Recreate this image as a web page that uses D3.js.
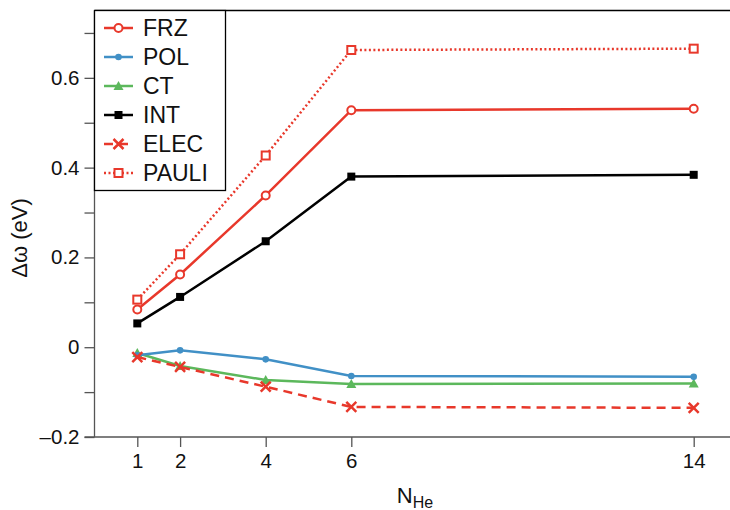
<!DOCTYPE html>
<html>
<head>
<meta charset="utf-8">
<script src="https://cdn.jsdelivr.net/npm/d3@7"></script>
<style>
  body { margin: 0; background: #fff; }
  svg { display: block; font-family: "Liberation Sans", Arial, sans-serif; }
</style>
</head>
<body>
<div id="chart"></div>
<script>
// data
const nHe = [1, 2, 4, 6, 14];
const frz   = [0.084, 0.162, 0.338, 0.528, 0.531];
const pol   = [-0.018, -0.007, -0.027, -0.064, -0.066];
const ct    = [-0.013, -0.042, -0.073, -0.082, -0.081];
const intE  = [0.053, 0.112, 0.236, 0.380, 0.384];
const elec  = [-0.022, -0.044, -0.088, -0.133, -0.135];
const pauli = [0.106, 0.207, 0.427, 0.662, 0.665];
const xTicks = [1, 2, 4, 6, 14];
const yTicks = [-0.2, -0.1, 0, 0.1, 0.2, 0.3, 0.4, 0.5, 0.6, 0.7];
const yLabelled = [-0.2, 0, 0.2, 0.4, 0.6];

const width = 730, height = 510;
const marginTop = 10.5, marginLeft = 94.5, marginBottom = 73;

const red = "#e8382b", blue = "#4190c6", green = "#5cb85c", black = "#000";

const series = [
  {name: "FRZ", values: frz, color: red, dash: null, marker: "circleOpen"},
  {name: "POL", values: pol, color: blue, dash: null, marker: "dot"},
  {name: "CT", values: ct, color: green, dash: null, marker: "triangle"},
  {name: "INT", values: intE, color: black, dash: null, marker: "square"},
  {name: "ELEC", values: elec, color: red, dash: "9,6", marker: "cross"},
  {name: "PAULI", values: pauli, color: red, dash: "2,2.5", marker: "squareOpen"}
];

const x = d3.scaleLinear().domain([0, 15]).range([marginLeft, marginLeft + 15 * 42.8]);
const y = d3.scaleLinear().domain([-0.2, 0.75]).range([height - marginBottom, marginTop]);

const svg = d3.select("#chart").append("svg")
  .attr("width", width).attr("height", height);

const axisColor = "#555";
const tickFont = 20.5;

// frame line on top
svg.append("line")
  .attr("x1", marginLeft).attr("x2", width).attr("y1", marginTop).attr("y2", marginTop)
  .attr("stroke", "#000").attr("stroke-width", 1.5);

// y axis
const yAxis = svg.append("g")
  .attr("transform", `translate(${marginLeft},0)`)
  .call(d3.axisLeft(y).tickValues(yTicks).tickSize(10).tickPadding(5)
    .tickFormat(d => yLabelled.some(v => Math.abs(v - d) < 1e-9)
      ? (d < 0 ? "\u2013" + d3.format(".1f")(-d) : d === 0 ? "0" : d3.format(".1f")(d)) : ""));
yAxis.select(".domain").attr("stroke", axisColor).attr("stroke-width", 1.3)
  .attr("d", `M0,${marginTop}V${height - marginBottom}`);
yAxis.selectAll(".tick line").attr("stroke", axisColor).attr("stroke-width", 1.3);
yAxis.selectAll(".tick text").attr("font-size", tickFont).attr("fill", "#111")
  .attr("font-family", "Liberation Sans, Arial, sans-serif");

// x axis
const xAxis = svg.append("g")
  .attr("transform", `translate(0,${height - marginBottom})`)
  .call(d3.axisBottom(x).tickValues(xTicks).tickSize(10).tickPadding(6));
xAxis.select(".domain").attr("stroke", axisColor).attr("stroke-width", 1.3)
  .attr("d", `M${marginLeft - 10},0H${width}`);
xAxis.selectAll(".tick line").attr("stroke", axisColor).attr("stroke-width", 1.3);
xAxis.selectAll(".tick text").attr("font-size", tickFont).attr("fill", "#111")
  .attr("font-family", "Liberation Sans, Arial, sans-serif");

// axis titles
svg.append("text")
  .attr("transform", `translate(27,238) rotate(-90)`)
  .attr("text-anchor", "middle")
  .attr("font-size", 22)
  .attr("fill", "#111")
  .text("\u0394\u03c9 (eV)");

const xt = svg.append("text")
  .attr("x", 415).attr("y", 503)
  .attr("text-anchor", "middle")
  .attr("font-size", 22)
  .attr("fill", "#111");
xt.append("tspan").text("N");
xt.append("tspan").attr("font-size", 16).attr("dy", 5).text("He");

// markers
function drawMarker(g, type, color, cx, cy) {
  if (type === "circleOpen") {
    g.append("circle").attr("cx", cx).attr("cy", cy).attr("r", 4)
      .attr("fill", "#fff").attr("stroke", color).attr("stroke-width", 2);
  } else if (type === "dot") {
    g.append("circle").attr("cx", cx).attr("cy", cy).attr("r", 3.3).attr("fill", color);
  } else if (type === "triangle") {
    g.append("path").attr("d", `M${cx},${cy - 5}L${cx + 5},${cy + 4}L${cx - 5},${cy + 4}Z`).attr("fill", color);
  } else if (type === "square") {
    g.append("rect").attr("x", cx - 4).attr("y", cy - 4).attr("width", 8).attr("height", 8).attr("fill", color);
  } else if (type === "squareOpen") {
    g.append("rect").attr("x", cx - 4).attr("y", cy - 4).attr("width", 8).attr("height", 8)
      .attr("fill", "#fff").attr("stroke", color).attr("stroke-width", 2);
  } else if (type === "cross") {
    g.append("path").attr("d", `M${cx - 5},${cy - 5}L${cx + 5},${cy + 5}M${cx - 5},${cy + 5}L${cx + 5},${cy - 5}`)
      .attr("stroke", color).attr("stroke-width", 2.5);
  }
}

const line = d3.line().x((d, i) => x(nHe[i])).y(d => y(d));

const drawOrder = [2, 1, 4, 3, 0, 5];
drawOrder.forEach(k => {
  const s = series[k];
  const g = svg.append("g");
  g.append("path")
    .attr("d", line(s.values))
    .attr("fill", "none")
    .attr("stroke", s.color)
    .attr("stroke-width", 2.5)
    .attr("stroke-dasharray", s.dash);
  s.values.forEach((v, i) => drawMarker(g, s.marker, s.color, x(nHe[i]), y(v)));
});

// legend
const legend = svg.append("g");
legend.append("rect")
  .attr("x", marginLeft).attr("y", marginTop)
  .attr("width", 131).attr("height", 180)
  .attr("fill", "#fff").attr("stroke", "#000").attr("stroke-width", 1.3);
series.forEach((s, i) => {
  const ly = 28 + i * 29;
  const g = legend.append("g");
  g.append("line").attr("x1", 104).attr("x2", 133).attr("y1", ly).attr("y2", ly)
    .attr("stroke", s.color).attr("stroke-width", 2.5).attr("stroke-dasharray", s.dash);
  drawMarker(g, s.marker, s.color, 118.5, ly);
  g.append("text").attr("x", 143).attr("y", ly).attr("dy", "0.36em")
    .attr("font-size", 23).attr("fill", "#111").text(s.name);
});
</script>
</body>
</html>
